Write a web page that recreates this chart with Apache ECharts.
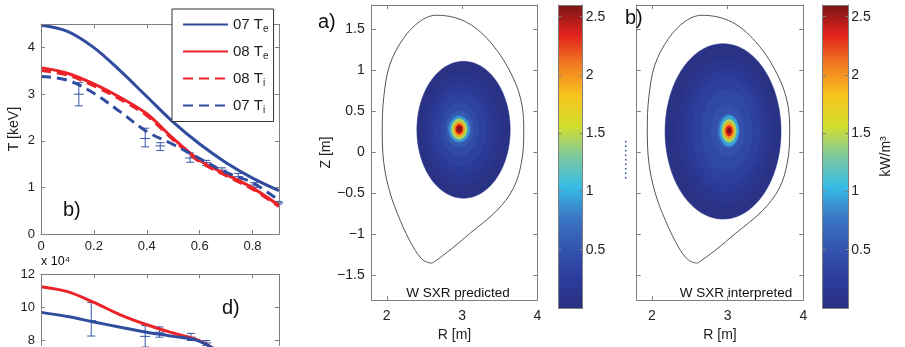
<!DOCTYPE html>
<html><head><meta charset="utf-8">
<script src="https://cdn.jsdelivr.net/npm/echarts@6/dist/echarts.min.js"></script>
<style>html,body{margin:0;padding:0;background:#fff}#c{width:905px;height:347px}</style>
</head><body><div id="c"></div>
<script>
// ---------------- data ----------------
const rho  = [0, 0.1, 0.2, 0.3, 0.4, 0.5, 0.6, 0.7, 0.8, 0.9];
const te07 = [4.48, 4.35, 4.0, 3.5, 2.95, 2.4, 1.93, 1.53, 1.2, 0.93];
const te08 = [3.57, 3.45, 3.22, 2.93, 2.58, 2.05, 1.58, 1.28, 0.99, 0.61];
const ti08 = [3.51, 3.41, 3.18, 2.89, 2.54, 2.02, 1.55, 1.25, 0.96, 0.59];
const ti07 = [3.38, 3.3, 3.02, 2.62, 2.2, 1.92, 1.62, 1.32, 1.1, 0.72];
const seriesNames = ['07 Te', '08 Te', '08 Ti', '07 Ti'];

const tErrX    = [0.143, 0.394, 0.451, 0.564, 0.625, 0.684, 0.746, 0.806, 0.897];
const tErrMid  = [3.0, 2.05, 1.89, 1.63, 1.53, 1.37, 1.23, 1.05, 0.67];
const tErrLow  = [2.75, 1.87, 1.79, 1.54, 1.47, 1.32, 1.16, 1.0, 0.64];
const tErrHigh = [3.25, 2.27, 1.96, 1.74, 1.58, 1.42, 1.3, 1.1, 0.7];

const dRho  = [0, 0.1, 0.2, 0.3, 0.4, 0.5, 0.6, 0.7];
const dRed  = [11.25, 10.95, 10.3, 9.55, 8.95, 8.45, 7.98, 7.0];
const dBlue = [9.7, 9.45, 9.12, 8.8, 8.5, 8.25, 7.95, 7.0];
const dErrX    = [0.19, 0.394, 0.448, 0.567, 0.625];
const dErrMid  = [9.2, 8.25, 8.5, 8.2, 7.85];
const dErrLow  = [8.27, 7.6, 8.2, 8.0, 7.7];
const dErrHigh = [10.3, 8.9, 8.82, 8.43, 8.0];

const tXTicks = [0, 0.2, 0.4, 0.6, 0.8];
const tYTicks = [0, 1, 2, 3, 4];
const dYTicks = [8, 10, 12];
const dYRange = [7.7, 12];          // visible part of panel d (cut by the figure edge)
const rTicks  = [2, 3, 4];
const zTicks  = [-1.5, -1, -0.5, 0, 0.5, 1, 1.5];
const cbTicks = [0.5, 1, 1.5, 2, 2.5];
const cbRange = [0, 2.6];

// boundary outline (R, Z in m)
const wallR = [2.59, 2.62, 2.84, 3.10, 3.46, 3.68, 3.79, 3.82, 3.80, 3.68, 3.41, 3.06, 2.66, 2.44, 2.22, 2.04, 1.96, 1.94, 1.96, 2.04, 2.18, 2.35, 2.48, 2.59];
const wallZ = [-1.35, -1.34, -1.19, -0.99, -0.71, -0.44, -0.12, 0.24, 0.56, 0.91, 1.31, 1.59, 1.675, 1.6, 1.39, 1.07, 0.675, 0.28, -0.12, -0.48, -0.83, -1.15, -1.31, -1.35];

// emission contour levels (kW/m^3) with centre and half-widths (m)
const predLevel = [0.04, 0.12, 0.2, 0.3, 0.4, 0.55, 0.9, 1.45, 1.95, 2.35, 2.58];
const predSemiR = [0.62, 0.5, 0.42, 0.34, 0.25, 0.18, 0.139, 0.104, 0.073, 0.049, 0.03];
const predSemiZ = [0.835, 0.68, 0.56, 0.45, 0.32, 0.22, 0.159, 0.125, 0.09, 0.06, 0.035];
const predCenR  = [3.02, 3.0, 2.99, 2.98, 2.97, 2.965, 2.963, 2.963, 2.963, 2.963, 2.963];
const predCenZ  = [0.278, 0.28, 0.282, 0.284, 0.285, 0.286, 0.286, 0.286, 0.286, 0.286, 0.286];

const intLevel = [0.04, 0.12, 0.2, 0.29, 0.37, 0.46, 0.62, 0.95, 1.45, 1.95, 2.35, 2.58];
const intSemiR = [0.766, 0.62, 0.53, 0.45, 0.34, 0.22, 0.15, 0.126, 0.095, 0.07, 0.045, 0.025];
const intSemiZ = [1.07, 0.88, 0.76, 0.66, 0.5, 0.32, 0.21, 0.185, 0.14, 0.1, 0.065, 0.035];
const intCenR  = [2.94, 2.96, 2.97, 2.98, 2.99, 3.0, 3.01, 3.02, 3.02, 3.02, 3.02, 3.02];
const intCenZ  = [0.258, 0.26, 0.262, 0.264, 0.265, 0.265, 0.265, 0.265, 0.265, 0.265, 0.265, 0.265];

const jet = ['#29307f', '#2c3d9d', '#3456b0', '#3a78c4', '#37bbe6', '#7cc89e',
             '#d2de2e', '#f7c41d', '#f27e21', '#e3231f', '#7a1515'];

// ---------------- helpers ----------------
const FF = '"Liberation Sans", Arial, sans-serif';
const AX = '#7f7f7f';
const LBL = '#222';
const BLUE = '#304c9e', RED = '#ec2229';

function fmtMinus(v) { return v < 0 ? '\u2212' + (-v) : String(v); }

function ax(grid, min, max, ticks, opts) {
  return Object.assign({
    type: 'value', gridIndex: grid, min: min, max: max, z: 5,
    axisLine: { show: true, onZero: false, lineStyle: { color: AX, width: 1 } },
    axisTick: { show: true, inside: true, length: 4, customValues: ticks, lineStyle: { color: AX } },
    axisLabel: { show: true, customValues: ticks, color: LBL, fontSize: 13, fontFamily: FF, margin: 6, formatter: fmtMinus },
    splitLine: { show: false }
  }, opts || {});
}
const noLabel = { show: false };
const cbTick = { show: true, inside: true, length: 3, customValues: cbTicks, lineStyle: { color: AX } };
const bigLbl = (ticks, margin) => ({ customValues: ticks, color: LBL, fontSize: 14, fontFamily: FF, margin: margin, formatter: fmtMinus });
const nameStyle = { fontSize: 14, fontFamily: FF, color: LBL };

function ellipseItem(params, api) {
  const cR = api.value(0), cZ = api.value(1), a = api.value(2), b = api.value(3);
  const pts = [];
  for (let i = 0; i < 90; i++) {
    const t = i / 90 * 2 * Math.PI;
    pts.push(api.coord([cR + a * Math.cos(t), cZ + b * Math.sin(t)]));
  }
  return { type: 'polygon', shape: { points: pts }, style: { fill: api.visual('color'), stroke: api.visual('color'), lineWidth: 0.5 } };
}
function errItem(params, api) {
  const x = api.value(0), m = api.value(1), lo = api.value(2), hi = api.value(3);
  const pL = api.coord([x, lo]), pH = api.coord([x, hi]), pM = api.coord([x, m]);
  const st = { stroke: '#3656a8', lineWidth: 1 };
  return { type: 'group', children: [
    { type: 'line', shape: { x1: pL[0], y1: pL[1], x2: pH[0], y2: pH[1] }, style: st },
    { type: 'line', shape: { x1: pL[0] - 4, y1: pL[1], x2: pL[0] + 4, y2: pL[1] }, style: st },
    { type: 'line', shape: { x1: pH[0] - 4, y1: pH[1], x2: pH[0] + 4, y2: pH[1] }, style: st },
    { type: 'line', shape: { x1: pM[0] - 5, y1: pM[1], x2: pM[0] + 5, y2: pM[1] }, style: st }
  ] };
}
function cbItem(params, api) {
  const p0 = api.coord([0, api.value(0)]), p1 = api.coord([1, api.value(1)]);
  return { type: 'rect', shape: { x: p0[0], y: p1[1], width: p1[0] - p0[0], height: p0[1] - p1[1] },
    style: { fill: new echarts.graphic.LinearGradient(0, 1, 0, 0, jet.map((c, i) => ({ offset: i / (jet.length - 1), color: c }))) } };
}

const zip = (...arrs) => arrs[0].map((_, i) => arrs.map(a => a[i]));

// ---------------- chart ----------------
const chart = echarts.init(document.getElementById('c'), null, { renderer: 'canvas' });

const grids = [
  { left: 41, top: 24.3, width: 238, height: 209.7 },
  { left: 41, top: 274.3, width: 238, height: 73.1 },
  { left: 371.7, top: 5, width: 165.6, height: 302 },
  { left: 558.3, top: 5, width: 24.4, height: 303 },
  { left: 636.7, top: 5, width: 166.6, height: 302 },
  { left: 822.7, top: 5, width: 25.6, height: 303 }
];

const xAxes = [
  ax(0, 0, 0.9, tXTicks),
  ax(0, 0, 0.9, tXTicks, { position: 'top', axisLabel: noLabel }),
  ax(1, 0, 0.9, tXTicks, { show: false }),
  ax(1, 0, 0.9, tXTicks, { position: 'top', axisLabel: noLabel }),
  ax(2, 1.8, 4, rTicks, { name: 'R [m]', nameLocation: 'middle', nameGap: 25, nameTextStyle: nameStyle, axisLabel: bigLbl(rTicks, 9) }),
  ax(2, 1.8, 4, rTicks, { position: 'top', axisLabel: noLabel }),
  ax(3, 0, 1, [], { axisLabel: noLabel, axisTick: { show: false } }),
  ax(4, 1.8, 4, rTicks, { name: 'R [m]', nameLocation: 'middle', nameGap: 25, nameTextStyle: nameStyle, axisLabel: bigLbl(rTicks, 9) }),
  ax(4, 1.8, 4, rTicks, { position: 'top', axisLabel: noLabel }),
  ax(5, 0, 1, [], { axisLabel: noLabel, axisTick: { show: false } }),
  ax(3, 0, 1, [], { position: 'top', axisLabel: noLabel, axisTick: { show: false } }),
  ax(5, 0, 1, [], { position: 'top', axisLabel: noLabel, axisTick: { show: false } })
];

const yAxes = [
  ax(0, 0, 4.5, tYTicks, { name: 'T [keV]', nameLocation: 'middle', nameGap: 20, nameTextStyle: nameStyle }),
  ax(0, 0, 4.5, tYTicks, { position: 'right', axisLabel: noLabel }),
  ax(1, dYRange[0], dYRange[1], dYTicks),
  ax(1, dYRange[0], dYRange[1], dYTicks, { position: 'right', axisLabel: noLabel }),
  ax(2, -1.8, 1.8, zTicks, { name: 'Z [m]', nameLocation: 'middle', nameGap: 36, nameTextStyle: nameStyle, axisLabel: bigLbl(zTicks, 7) }),
  ax(2, -1.8, 1.8, zTicks, { position: 'right', axisLabel: noLabel }),
  ax(3, cbRange[0], cbRange[1], cbTicks, { position: 'right', axisTick: cbTick, axisLabel: bigLbl(cbTicks, 3) }),
  ax(3, cbRange[0], cbRange[1], cbTicks, { position: 'left', axisLabel: noLabel, axisTick: cbTick }),
  ax(4, -1.8, 1.8, zTicks, { axisLabel: noLabel }),
  ax(4, -1.8, 1.8, zTicks, { position: 'right', axisLabel: noLabel }),
  ax(5, cbRange[0], cbRange[1], cbTicks, { position: 'right', name: 'kW/m\u00B3', nameLocation: 'middle', nameRotate: 90, nameGap: 31, nameTextStyle: nameStyle, axisTick: cbTick, axisLabel: bigLbl(cbTicks, 3) }),
  ax(5, cbRange[0], cbRange[1], cbTicks, { position: 'left', axisLabel: noLabel, axisTick: cbTick })
];

const lineBase = (name, data, color, dashed, xi, yi) => ({
  name: name, type: 'line', xAxisIndex: xi, yAxisIndex: yi, data: data, symbol: 'none', showSymbol: false, smooth: 0.35,
  lineStyle: { color: color, width: 3, type: dashed ? [10, 6] : 'solid' }, itemStyle: { color: color }
});

const series = [
  lineBase(seriesNames[0], zip(rho, te07), BLUE, false, 0, 0),
  lineBase(seriesNames[1], zip(rho, te08), RED, false, 0, 0),
  lineBase(seriesNames[2], zip(rho, ti08), RED, true, 0, 0),
  lineBase(seriesNames[3], zip(rho, ti07), BLUE, true, 0, 0),
  { type: 'custom', xAxisIndex: 0, yAxisIndex: 0, renderItem: errItem, encode: { x: 0, y: [1, 2, 3] },
    data: zip(tErrX, tErrMid, tErrLow, tErrHigh), z: 3 },
  lineBase('d red', zip(dRho, dRed), RED, false, 2, 2),
  lineBase('d blue', zip(dRho, dBlue), BLUE, false, 2, 2),
  { type: 'custom', xAxisIndex: 2, yAxisIndex: 2, renderItem: errItem, encode: { x: 0, y: [1, 2, 3] },
    data: zip(dErrX, dErrMid, dErrLow, dErrHigh), z: 3 },
  { type: 'custom', xAxisIndex: 4, yAxisIndex: 4, renderItem: ellipseItem, encode: { x: 0, y: 1 },
    data: zip(predCenR, predCenZ, predSemiR, predSemiZ, predLevel) },
  { type: 'line', xAxisIndex: 4, yAxisIndex: 4, data: zip(wallR, wallZ), symbol: 'none', smooth: 0.35,
    lineStyle: { color: '#555', width: 1 }, z: 3 },
  { type: 'custom', xAxisIndex: 6, yAxisIndex: 6, renderItem: cbItem, data: [cbRange], encode: { y: [0, 1] } },
  { type: 'custom', xAxisIndex: 7, yAxisIndex: 8, renderItem: ellipseItem, encode: { x: 0, y: 1 },
    data: zip(intCenR, intCenZ, intSemiR, intSemiZ, intLevel) },
  { type: 'line', xAxisIndex: 7, yAxisIndex: 8, data: zip(wallR, wallZ), symbol: 'none', smooth: 0.35,
    lineStyle: { color: '#555', width: 1 }, z: 3 },
  { type: 'custom', xAxisIndex: 9, yAxisIndex: 10, renderItem: cbItem, data: [cbRange], encode: { y: [0, 1] } }
];

const txt = (x, y, text, size, align) => ({
  type: 'text', x: x, y: y, z: 100,
  style: { text: text, fontSize: size, fontFamily: FF, fill: '#111', align: align || 'left', verticalAlign: 'middle' }
});

chart.setOption({
  animation: false,
  backgroundColor: '#fff',
  grid: grids,
  xAxis: xAxes,
  yAxis: yAxes,
  visualMap: { type: 'continuous', show: false, min: cbRange[0], max: cbRange[1], dimension: 4, seriesIndex: [8, 11],
    inRange: { color: jet } },
  legend: {
    data: seriesNames, orient: 'vertical', left: 172, top: 9, z: 20, itemWidth: 45, itemHeight: 14, itemGap: 9.5,
    padding: [8, 5, 6, 10], borderColor: '#333', borderWidth: 1, backgroundColor: '#fff', selectedMode: false,
    itemStyle: { opacity: 0 },
    textStyle: { fontFamily: FF, fontSize: 15, color: '#222',
      rich: { a: { fontFamily: FF, fontSize: 15, color: '#222' }, s: { fontFamily: FF, fontSize: 10, color: '#222', padding: [10, 0, 0, 0] } } },
    formatter: n => '{a|' + n.slice(0, -1) + '}{s|' + n.slice(-1) + '}'
  },
  series: series,
  graphic: [
    txt(63, 210, 'b)', 20),
    txt(222, 308, 'd)', 20),
    txt(318, 22, 'a)', 20),
    txt(625, 18, 'b)', 20),
    txt(458, 293, 'W SXR predicted', 13.5, 'center'),
    txt(736, 293, 'W SXR interpreted', 13.5, 'center'),
    txt(41, 262, 'x 10\u2074', 12.5),
    { type: 'line', z: 100, shape: { x1: 625.7, y1: 141, x2: 625.7, y2: 179 }, style: { stroke: '#2c4a9a', lineWidth: 1.5, lineDash: [1.5, 3] } }
  ]
});
</script>
</body></html>
